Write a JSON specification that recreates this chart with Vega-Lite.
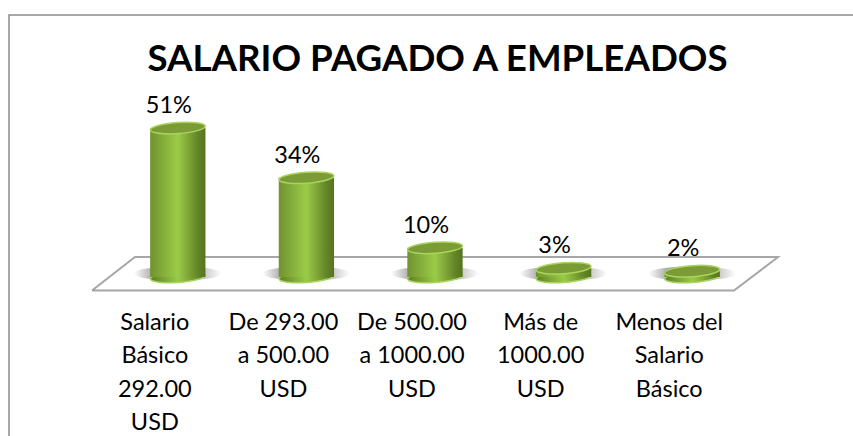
{
"$schema":"https://vega.github.io/schema/vega-lite/v6.json",
"width":853,"height":436,"autosize":"none","padding":0,
"background":"white",
"title":{"text":"SALARIO PAGADO A EMPLEADOS","font":"Lato","fontSize":36.7,"fontWeight":"bold","color":"#000000","anchor":"middle","dx":11,"offset":-79},
"config":{"view":{"stroke":null}},
"datasets":{
"salaries":[
{"categoria":"Salario Básico 292.00 USD","porcentaje":51,"etiqueta":"51%","lineas":["Salario","Básico","292.00","USD"]},
{"categoria":"De 293.00 a 500.00 USD","porcentaje":34,"etiqueta":"34%","lineas":["De 293.00","a 500.00","USD"]},
{"categoria":"De 500.00 a 1000.00 USD","porcentaje":10,"etiqueta":"10%","lineas":["De 500.00","a 1000.00","USD"]},
{"categoria":"Más de 1000.00 USD","porcentaje":3,"etiqueta":"3%","lineas":["Más de","1000.00","USD"]},
{"categoria":"Menos del Salario Básico","porcentaje":2,"etiqueta":"2%","lineas":["Menos del","Salario","Básico"]}
],
"floor":[
{"o":0,"px":92,"py":-4.6},{"o":1,"px":135,"py":6.85},{"o":2,"px":778,"py":6.85},{"o":3,"px":734,"py":-4.6},{"o":4,"px":92,"py":-4.6}
],
"frame":[
{"o":0,"px":9,"py":-54.5},{"o":1,"px":9,"py":89.7},{"o":2,"px":853,"py":89.7}
]
},
"resolve":{"scale":{"x":"independent"}},
"layer":[
{"data":{"name":"frame"},"mark":{"type":"line","stroke":"#8c8c8c","strokeWidth":1.5,"clip":false},
"encoding":{"x":{"field":"px","type":"quantitative","scale":{"domain":[0,853],"range":[0,853]},"axis":null},
"y":{"field":"py","type":"quantitative","scale":{"domain":[-54.45,94.86],"range":[436,0]},"axis":null},"order":{"field":"o"}}},
{"data":{"name":"floor"},"mark":{"type":"line","stroke":"#a6a6a6","strokeWidth":2},
"encoding":{"x":{"field":"px","type":"quantitative","scale":{"domain":[0,853],"range":[0,853]},"axis":null},
"y":{"field":"py","type":"quantitative","scale":{"domain":[-54.45,94.86],"range":[436,0]},"axis":null},"order":{"field":"o"}}},
{"data":{"name":"salaries"},
"encoding":{"x":{"field":"categoria","type":"nominal","sort":null,"axis":null,"scale":{"type":"band","range":[113.5,756.5],"paddingInner":0.57,"paddingOuter":0.285}}},
"layer":[
{"mark":{"type":"point","filled":true,"opacity":1,"size":7744,"shape":"M-1,0 A1,0.16 0 1,1 1,0 A1,0.16 0 1,1 -1,0 Z","color":{"gradient":"linear","x1":0,"x2":1,"y1":0,"y2":0,"stops":[{"offset":0,"color":"#ffffff"},{"offset":0.22,"color":"#a8a8a8"},{"offset":0.6,"color":"#8a8a8a"},{"offset":0.82,"color":"#cfcfcf"},{"offset":1,"color":"#ffffff"}]}},
"encoding":{"y":{"datum":1.2,"type":"quantitative","scale":{"domain":[-54.45,94.86],"range":[436,0]},"axis":null}}},
{"mark":{"type":"point","filled":true,"opacity":1,"size":3025,"angle":-4,"stroke":"#a9d45e","strokeWidth":1.5,"shape":"M-1,0 A1,0.2 0 1,1 1,0 A1,0.2 0 1,1 -1,0 Z","color":{"gradient":"linear","x1":0,"x2":1,"y1":0,"y2":0,"stops":[{"offset":0,"color":"#5f7f25"},{"offset":0.5,"color":"#9aca44"},{"offset":1,"color":"#56741f"}]}},
"encoding":{"y":{"datum":0,"type":"quantitative","scale":{"domain":[-54.45,94.86],"range":[436,0]},"axis":null}}},
{"mark":{"type":"bar","stroke":null,"color":{"gradient":"linear","x1":0,"x2":1,"y1":0,"y2":0,"stops":[{"offset":0,"color":"#6f9330"},{"offset":0.5,"color":"#9ccb47"},{"offset":0.85,"color":"#65862a"},{"offset":1,"color":"#56741f"}]}},
"encoding":{"y":{"field":"porcentaje","type":"quantitative","stack":null,"scale":{"domain":[-54.45,94.86],"range":[436,0]},"axis":null},"y2":{"datum":0}}},
{"mark":{"type":"point","filled":true,"opacity":1,"size":3025,"angle":-4,"stroke":"#a9d45e","strokeWidth":1.5,"fill":"#7b9b36","shape":"M-1,0 A1,0.2 0 1,1 1,0 A1,0.2 0 1,1 -1,0 Z"},
"encoding":{"y":{"field":"porcentaje","type":"quantitative","scale":{"domain":[-54.45,94.86],"range":[436,0]},"axis":null}}},
{"mark":{"type":"text","font":"Lato","fontSize":23.5,"color":"#000000","baseline":"middle","align":"center","xOffset":-9,"yOffset":-22},
"encoding":{"y":{"field":"porcentaje","type":"quantitative","scale":{"domain":[-54.45,94.86],"range":[436,0]},"axis":null},"text":{"field":"etiqueta"}}},
{"mark":{"type":"text","font":"Lato","fontSize":23.5,"color":"#000000","baseline":"middle","align":"center","xOffset":-23,"lineHeight":33.3},
"encoding":{"y":{"datum":-15.75,"type":"quantitative","scale":{"domain":[-54.45,94.86],"range":[436,0]},"axis":null},"text":{"field":"lineas"}}}
]
}
]
}
